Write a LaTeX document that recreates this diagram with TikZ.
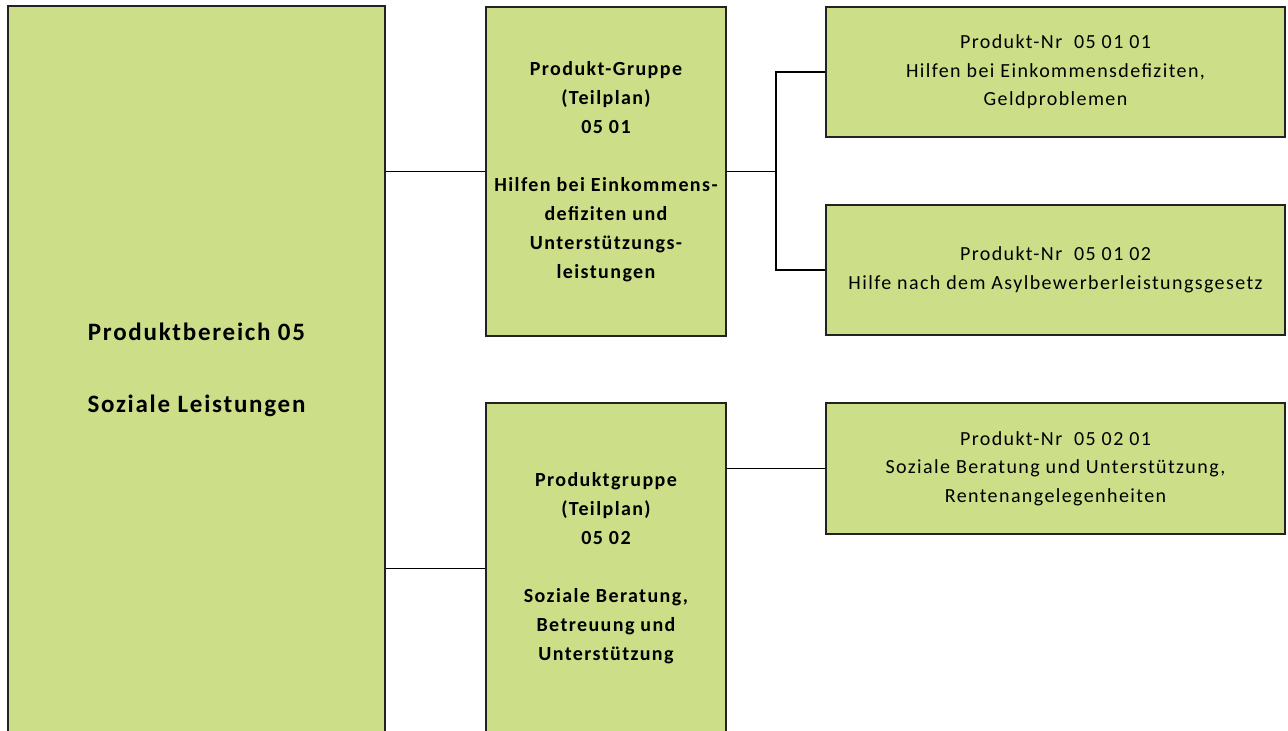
\documentclass[tikz,border=0pt]{standalone}
\usepackage{fontspec}
\setmainfont[LetterSpace=7]{Carlito}
\definecolor{boxgreen}{HTML}{CDDE89}
\definecolor{edge}{HTML}{222222}
\tikzset{
  box/.style={draw=edge, line width=1.6pt, fill=boxgreen, inner sep=0pt, align=center, text=black,
    font=\fontsize{20}{28.5}\selectfont},
  bbox/.style={box, font=\fontsize{20}{29}\selectfont\bfseries},
  bigbox/.style={box, font=\fontsize{25}{36}\selectfont\bfseries},
  conn/.style={draw=black, line width=1.6pt}
}
\begin{document}
\begin{tikzpicture}[x=1pt,y=-1pt]
\useasboundingbox (0,0) rectangle (1288,731);
\begin{scope}
\clip (0,0) rectangle (1288,731);
\node[bigbox, minimum width=377pt, minimum height=728pt] (big) at (196.5,370) {Produktbereich 05\\[36pt]Soziale Leistungen};
\node[bbox, minimum width=240pt, minimum height=329pt] (m1) at (606,171.5) {Produkt-Gruppe\\(Teilplan)\\05 01\\[29pt]Hilfen bei Einkommens-\\defiziten und\\Unterstützungs-\\leistungen};
\node[bbox, minimum width=240pt, minimum height=331pt] (m2) at (606,568.5) {Produktgruppe\\(Teilplan)\\05 02\\[29pt]Soziale Beratung,\\Betreuung und\\Unterstützung};
\node[box, minimum width=459pt, minimum height=130pt] (r1) at (1055.5,72) {Produkt-Nr\ \ 05 01 01\\Hilfen bei Einkommensdefiziten,\\Geldproblemen};
\node[box, minimum width=459pt, minimum height=130pt] (r2) at (1055.5,270) {Produkt-Nr\ \ 05 01 02\\Hilfe nach dem Asylbewerberleistungsgesetz};
\node[box, minimum width=459pt, minimum height=131pt] (r3) at (1055.5,468.5) {Produkt-Nr\ \ 05 02 01\\Soziale Beratung und Unterstützung,\\Rentenangelegenheiten};
\coordinate (j) at (776,171.5);
\draw[conn] (big.east |- m1.west) -- (m1.west);
\draw[conn] (big.east |- m2.west) -- (m2.west);
\draw[conn] (m1.east) -- (j);
\draw[conn] (j) |- (r1.west);
\draw[conn] (j) |- (r2.west);
\draw[conn] (m2.east |- r3.west) -- (r3.west);
\end{scope}
\end{tikzpicture}
\end{document}
